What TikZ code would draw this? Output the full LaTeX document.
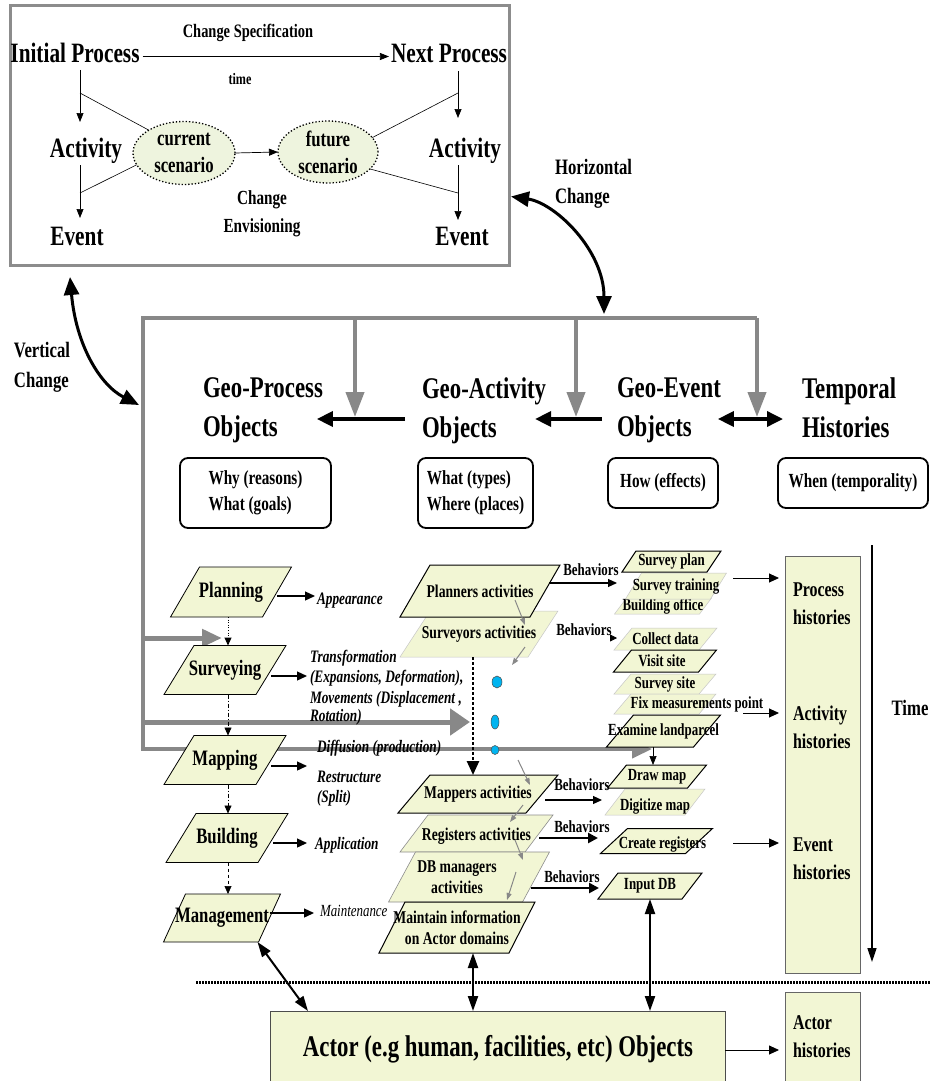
\documentclass[tikz,border=0pt]{standalone}
\usepackage{fontspec}
\setmainfont{Liberation Serif}[FakeStretch=0.76]
\usetikzlibrary{arrows.meta,shapes.geometric,calc}

\definecolor{boxfill}{RGB}{242,246,212}
\definecolor{ellfill}{RGB}{238,244,222}
\definecolor{linegray}{RGB}{136,136,136}
\definecolor{framegray}{RGB}{140,140,140}
\definecolor{dotcyan}{RGB}{0,180,240}

\newcommand\fsz[2]{\fontsize{#1}{#2}\selectfont}
% parallelogram: name, cx, cy, edge width, height, slant, path style, node style, text
\newcommand\pgram[9]{%
  \path[#7] ({#2-#4/2-#6/2},{#3+#5/2}) -- ({#2+#4/2-#6/2},{#3+#5/2})
     -- ({#2+#4/2+#6/2},{#3-#5/2}) -- ({#2-#4/2+#6/2},{#3-#5/2}) -- cycle;
  \node[minimum width=#4, minimum height=#5, align=center, #8] (#1) at (#2,#3) {#9};}

\begin{document}
\begin{tikzpicture}[x=1pt,y=-1pt,
  every node/.style={inner sep=0pt,outer sep=0pt},
  bigtxt/.style={font=\fsz{28}{32}\bfseries, text height=19pt, text depth=6pt},
  ptxt/.style={font=\fsz{18}{21}\bfseries},
  ltxt/.style={font=\fsz{22}{26}\bfseries},
  btxt/.style={font=\fsz{17}{20}\bfseries},
  htxt/.style={font=\fsz{21}{28}\bfseries, align=left, anchor=west},
  itl/.style={font=\fsz{17.5}{20.5}\bfseries\itshape},
  itlthin/.style={font=\fsz{17}{20}\itshape},
  rbox/.style={draw, line width=1.8pt, rounded corners=8pt, fill=white,
    font=\fsz{20}{26}\bfseries, align=left},
  pfull/.style={fill=boxfill, draw=black, line width=1pt},
  pmid/.style={fill=boxfill, draw=black!45, line width=0.6pt},
  pfade/.style={fill=boxfill, draw=black!22, line width=0.5pt},
  pleft/.style={fill=boxfill, draw=black, line width=0.8pt},
  tarrow/.style={line width=0.7pt, -{Triangle[length=9pt,width=7pt]}},
  grayarrow/.style={draw=linegray, line width=4pt, -{Triangle[length=25pt,width=18pt]}},
  chg/.style={line width=3pt, {Triangle[length=18pt,width=15pt]}-{Triangle[length=18pt,width=15pt]}},
  barrow/.style={line width=3.5pt, -{Triangle[length=16pt,width=15pt]}},
  bdbl/.style={line width=3.5pt, {Triangle[length=16pt,width=15pt]}-{Triangle[length=16pt,width=15pt]}},
  larrow/.style={line width=1.3pt, -{Triangle[length=10pt,width=9pt]}},
  sgray/.style={draw=linegray, line width=1pt, -{Triangle[length=7pt,width=5pt]}},
  bharrow/.style={line width=1.2pt, -{Triangle[length=9pt,width=8pt]}},
  bharrowthick/.style={line width=2.6pt, -{Triangle[length=10pt,width=10pt]}},
  harrow/.style={line width=0.9pt, -{Triangle[length=10pt,width=9pt]}, shorten >=6pt},
  dblarrow/.style={line width=2pt, {Triangle[length=15pt,width=10pt]}-{Triangle[length=15pt,width=10pt]}},
  dashdotline/.style={dash pattern=on 4pt off 2pt on 1pt off 2pt},
  vlink/.style={line width=0.6pt, -{Triangle[length=8pt,width=7pt]}}
]
\useasboundingbox (0,0) rectangle (930,1081);
\clip (0,0) rectangle (930,1081);
\fill[white] (0,0) rectangle (930,1081);

% ---------- change scenario frame ----------
\node[draw=framegray, line width=3pt, minimum width=499, minimum height=259] (frame) at (259.5,135.5) {};
\node[bigtxt] (ip) at (75,56.5) {Initial Process};
\node[bigtxt] (np) at (449,56.5) {Next Process};
\node[bigtxt] (a1) at (86,150.5) {Activity};
\node[bigtxt] (e1) at (77,238.5) {Event};
\node[bigtxt] (a2) at (465,150.5) {Activity};
\node[bigtxt] (e2) at (462,238.5) {Event};
\node[font=\fsz{19}{22}\bfseries] (cs) at (248,33) {Change Specification};
\node[font=\fsz{16}{19}\bfseries] (tm) at (240,79) {time};
\node[ellipse, draw, dotted, line width=1.3pt, fill=ellfill, minimum width=102, minimum height=63,
  align=center, font=\fsz{22}{27}\bfseries] (cur) at (184,153) {current\\scenario};
\node[ellipse, draw, dotted, line width=1.3pt, fill=ellfill, minimum width=100, minimum height=62,
  align=center, font=\fsz{22}{27}\bfseries] (fut) at (328,152) {future\\scenario};
\node[font=\fsz{20}{28}\bfseries, align=center] (env) at (262,214) {Change\\Envisioning};

\coordinate (lx) at (80,0);
\coordinate (rx) at (458,0);
\draw[tarrow, shorten <=3pt, shorten >=2pt] (ip.east) -- (np.west);
\draw[tarrow, shorten <=1pt, shorten >=16pt] (ip.south -| lx) -- (a1.north -| lx);
\draw[tarrow, shorten <=2pt, shorten >=8pt] (a1.south -| lx) -- (e1.north -| lx);
\draw[tarrow, shorten <=2pt, shorten >=20pt] (np.south -| rx) -- (a2.north -| rx);
\draw[tarrow, shorten <=2pt, shorten >=6pt] (a2.south -| rx) -- (e2.north -| rx);
\draw[tarrow] (cur.east) -- (fut.west);
\coordinate (j1) at (80,93);
\coordinate (j2) at (80,193);
\coordinate (j3) at (458,93);
\coordinate (j4) at (458,193);
\draw[line width=0.6pt] (j1) -- (cur.147);
\draw[line width=0.6pt] (j2) -- (cur.194);
\draw[line width=0.6pt] (j3) -- (fut.18);
\draw[line width=0.6pt] (j4) -- (fut.338);

% ---------- vertical / horizontal change ----------
\node[font=\fsz{22}{30}\bfseries, align=left] (vc) at (42,367) {Vertical\\Change};
\node[font=\fsz{22}{29}\bfseries, align=left, anchor=west] (hc) at (555,184) {Horizontal\\Change};
\coordinate (vtip) at (139,405);
\coordinate (htip) at (604,314);
\draw[chg] ([xshift=60pt,yshift=-12pt]frame.south west) .. controls (76,345) and (100,385) .. (vtip);
\draw[chg] ([xshift=2pt,yshift=-61pt]frame.east) .. controls (555,203) and (604,250) .. (htip);

% ---------- gray object frame ----------
\draw[grayarrow, line join=miter, -{Triangle[length=20pt,width=18pt]}] (757,318) -- (143,318) -- (143,749) -- (652,749);
\draw[grayarrow] (355,318) -- (355,417);
\draw[grayarrow] (576,318) -- (576,417);
\draw[grayarrow] (757,318) -- (757,417);
\draw[draw=linegray, line width=5pt, -{Triangle[length=20pt,width=17pt]}] (143,638) -- (222,638);
\draw[draw=linegray, line width=5pt, -{Triangle[length=20pt,width=26pt]}] (143,722) -- (470,722);

% ---------- object classes ----------
\node[font=\fsz{30}{39}\bfseries, align=left, anchor=north west] (gp) at (203,378) {Geo-Process\\Objects};
\node[font=\fsz{30}{39}\bfseries, align=left, anchor=north west] (ga) at (422,378) {Geo-Activity\\Objects};
\node[font=\fsz{30}{39}\bfseries, align=left, anchor=north west] (ge) at (617,378) {Geo-Event\\Objects};
\node[font=\fsz{30}{39}\bfseries, align=left, anchor=north west] (th) at (802,378) {Temporal\\Histories};
\coordinate (ay) at (0,419);
\draw[barrow] ($(ga.west|-ay)+(-17,0)$) -- ($(gp.east|-ay)+(-6,0)$);
\draw[barrow] ($(ge.west|-ay)+(-15,0)$) -- ($(ga.east|-ay)+(-11,0)$);
\draw[bdbl] ($(ge.east|-ay)+(-3,0)$) -- ($(th.west|-ay)+(-19,0)$);

\node[rbox, minimum width=151, minimum height=70] (why) at (255.5,493) {Why (reasons)\\What (goals)};
\node[rbox, minimum width=115, minimum height=70] (wht) at (475.5,493) {What (types)\\Where (places)};
\node[rbox, minimum width=110, minimum height=50] (how) at (663,483) {How (effects)};
\node[rbox, minimum width=150, minimum height=50] (whn) at (853,483) {When (temporality)};

% ---------- process steps ----------
\pgram{pl}{231}{592}{92}{50}{29}{pleft}{ltxt}{Planning}
\pgram{sv}{225}{670}{92}{49}{30}{pleft}{ltxt}{Surveying}
\pgram{mp}{225}{760}{92}{49}{30}{pleft}{ltxt}{Mapping}
\pgram{bd}{227}{838}{92}{49}{30}{pleft}{ltxt}{Building}
\pgram{mg}{222}{918}{95}{48}{22}{pleft}{ltxt}{Management}

\coordinate (cl) at (228,0);
\draw[vlink, dotted, line width=1pt] (pl.south -| cl) -- (sv.north -| cl);
\draw[vlink, dashdotline] (sv.south -| cl) -- (mp.north -| cl);
\draw[vlink, dashdotline] (mp.south -| cl) -- (bd.north -| cl);
\draw[vlink, dashed] (bd.south -| cl) -- (mg.north -| cl);

\coordinate (aapp) at (315,596);
\coordinate (atr) at (307,676);
\coordinate (amp) at (307,766);
\coordinate (aapl) at (307,843);
\coordinate (amt) at (314,913);
\draw[larrow] (pl.east |- aapp) -- (aapp);
\draw[larrow] (sv.east |- atr) -- (atr);
\draw[larrow] (mp.east |- amp) -- (amp);
\draw[larrow] (bd.east |- aapl) -- (aapl);
\draw[larrow] (mg.east |- amt) -- (amt);
\node[itl, anchor=west] (app) at (317,601) {Appearance};
\node[itl, anchor=north west, align=left] (trf) at (310,650)
  {Transformation\\(Expansions, Deformation),\\Movements (Displacement ,\\[-2pt]Rotation)};
\node[itl, anchor=west] (dif) at (317,748) {Diffusion (production)};
\node[itl, anchor=north west, align=left] (rst) at (317,771) {Restructure\\(Split)};
\node[itl, anchor=west] (apl) at (315,845) {Application};
\node[itlthin, anchor=west] (mnt) at (320,911) {Maintenance};

% ---------- actor activities ----------
\pgram{sa}{479}{634}{128}{46}{30}{pfade}{ptxt}{Surveyors activities}
\pgram{pa}{480}{591}{130}{52}{30}{pfull}{ptxt}{Planners activities}
\pgram{ma}{478}{794}{128}{38}{32}{pfull}{ptxt}{Mappers activities}
\pgram{ra}{476.5}{833.5}{125}{37}{28}{pmid}{ptxt,yshift=-3pt}{Registers activities}
\pgram{da}{469}{877}{134}{50}{27}{pmid}{ptxt,xshift=-12pt}{DB managers\\activities}
\pgram{mi}{457}{927.5}{130}{51}{26}{pfull}{ptxt}{Maintain information\\on Actor domains}

\draw[sgray] (515,600) -- (525,625);
\draw[sgray] (525,647) -- (512,665);
\draw[sgray] (518,760) -- (530,785);
\draw[sgray] (523,805) -- (510,822);
\draw[sgray] (515,840) -- (523,860);
\draw[sgray] (516,872) -- (507,900);

\coordinate (c473) at (473,0);
\draw[line width=2.5pt, dash pattern=on 2.5pt off 2.5pt, -{Triangle[length=14pt,width=12pt]}]
  (sa.south -| c473) -- (ma.north -| c473);

\node[ellipse, draw=black!70, line width=0.5pt, fill=dotcyan, minimum width=10, minimum height=12] (d1) at (497,682) {};
\node[ellipse, draw=black!70, line width=0.5pt, fill=dotcyan, minimum width=8, minimum height=14] (d2) at (495,722) {};
\node[ellipse, draw=black!70, line width=0.5pt, fill=dotcyan, minimum width=8, minimum height=9] (d3) at (495,750) {};

% ---------- behaviours ----------
\pgram{bo}{663}{606}{85}{16}{12}{pfade}{btxt}{Building office}
\pgram{st}{676}{586}{85}{26}{16}{pfade}{btxt}{Survey training}
\pgram{sp}{671.5}{561.5}{85}{21}{14}{pfull}{btxt}{Survey plan}
\pgram{cd}{665.5}{639}{85}{22}{18}{pfade}{btxt}{Collect data}
\pgram{vs}{665}{661}{85}{22}{18}{pfull}{btxt,xshift=-3pt}{Visit site}
\pgram{ss}{665}{684}{85}{20}{17}{pfade}{btxt}{Survey site}
\pgram{fm}{665}{704}{85}{20}{17}{pfade}{btxt,xshift=32pt}{Fix measurements point}
\pgram{ex}{663.5}{731}{87}{32}{27}{pfull}{btxt}{Examine landparcel}
\pgram{dg}{655}{802}{80}{26}{20}{pfade}{btxt,yshift=-4pt}{Digitize map}
\pgram{dm}{657}{776.5}{80}{23}{19}{pfull}{btxt}{Draw map}
\pgram{cr}{656.5}{841}{85}{25}{27}{pfull}{btxt,xshift=6pt,yshift=-3pt}{Create registers}
\pgram{idb}{650}{886}{84}{26}{20}{pfull}{btxt}{Input DB}

\coordinate (c653) at (653,0);
\draw[tarrow] (ex.south -| c653) -- (dm.north -| c653);

\node[btxt] (b1) at (591,570) {Behaviors};
\node[btxt] (b2) at (584,630) {Behaviors};
\node[btxt] (b3) at (582,785) {Behaviors};
\node[btxt] (b4) at (582,827) {Behaviors};
\node[btxt] (b5) at (572,877) {Behaviors};
\coordinate (t1) at (617,583);
\coordinate (t2) at (617,638);
\coordinate (t3) at (602,800);
\coordinate (t4) at (598,838);
\coordinate (t5) at (599,888);
\draw[bharrow] ($(pa.east |- t1)+(4,0)$) -- (t1);
\draw[line width=0.8pt, -{Triangle[length=7pt,width=7pt]}] (b2.east |- t2) -- (t2);
\draw[bharrow] ($(ma.east |- t3)+(3,0)$) -- (t3);
\draw[bharrowthick] (ra.east |- t4) -- (t4);
\draw[bharrowthick] ($(da.east |- t5)+(7,0)$) -- (t5);

% ---------- histories ----------
\node[draw=black!60, line width=0.8pt, fill=boxfill, minimum width=75, minimum height=417] (hist) at (822.5,764.5) {};
\node[htxt] (ph) at (793,604) {Process\\histories};
\node[htxt] (ah) at (793,727) {Activity\\histories};
\node[htxt] (eh) at (793,859) {Event\\histories};
\node[font=\fsz{22}{26}\bfseries] (tmx) at (910,708) {Time};
\coordinate (h1) at (733,578);
\coordinate (h2) at (743,713);
\coordinate (h3) at (733,843);
\draw[harrow] (h1) -- (hist.west |- h1);
\draw[harrow] (h2) -- (hist.west |- h2);
\draw[harrow] (h3) -- (hist.west |- h3);
\coordinate (ttop) at (872,545);
\coordinate (tbot) at (872,962);
\draw[line width=1.6pt, -{Triangle[length=14pt,width=9pt]}] (ttop) -- (tbot);

% ---------- actor layer ----------
\coordinate (sepL) at (196,982);
\coordinate (sepR) at (930,982);
\draw[line width=3pt, dash pattern=on 1.6pt off 1.4pt] (sepL) -- (sepR);
\node[draw=black!70, line width=0.8pt, fill=boxfill, minimum width=455, minimum height=90] (actor) at (497.5,1056) {};
\node[font=\fsz{30}{36}\bfseries] (acttxt) at (498,1049) {Actor (e.g human, facilities, etc) Objects};
\node[draw=black!60, line width=0.8pt, fill=boxfill, minimum width=75, minimum height=100] (acth) at (822.5,1042) {};
\node[htxt] (ahx) at (793,1037) {Actor\\histories};
\coordinate (h4) at (0,1050);
\draw[harrow] (actor.east |- h4) -- (acth.west |- h4);
\draw[dblarrow] (mi.south -| c473) -- (actor.north -| c473);
\draw[dblarrow] (idb.south) -- (idb.south |- actor.north);
\draw[dblarrow] ([xshift=-12pt]mg.south east) -- ([xshift=38pt]actor.north west);
\end{tikzpicture}
\end{document}
